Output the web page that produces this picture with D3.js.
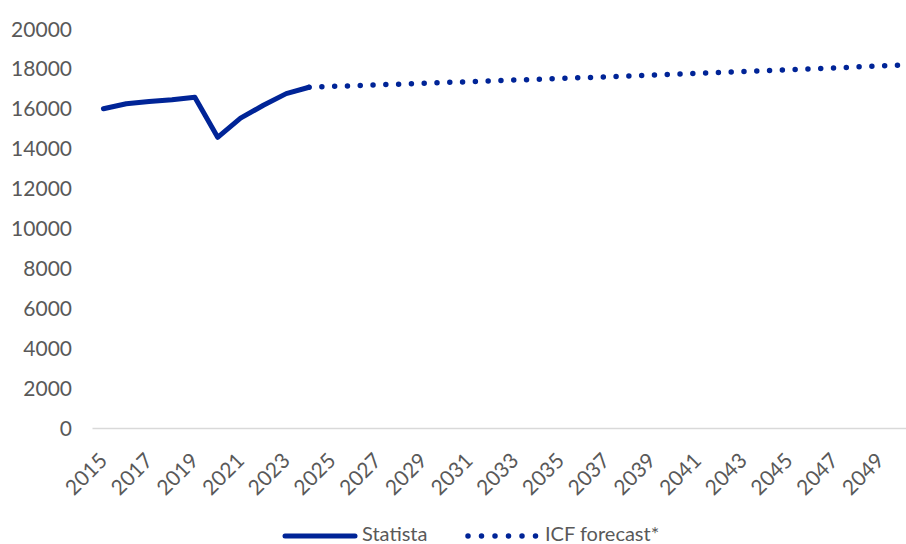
<!DOCTYPE html>
<html>
<head>
<meta charset="utf-8">
<script src="https://cdn.jsdelivr.net/npm/d3@7"></script>
<style>
  html, body { margin: 0; padding: 0; background: #fff; overflow: hidden; }
  svg { display: block; }
  text { font-family: Lato, "Open Sans", sans-serif; fill: #595959; }
</style>
</head>
<body>
<svg id="chart" width="906" height="544"></svg>
<script>
// ---- data ----
const years = d3.range(2015, 2051);
const statistaYears = [2015, 2016, 2017, 2018, 2019, 2020, 2021, 2022, 2023, 2024];
const statistaValues = [16000, 16250, 16370, 16450, 16580, 14570, 15530, 16180, 16760, 17080];
const forecastYears = [2024, 2025, 2026, 2027, 2028, 2029, 2030, 2031, 2032, 2033, 2034, 2035, 2036, 2037,
  2038, 2039, 2040, 2041, 2042, 2043, 2044, 2045, 2046, 2047, 2048, 2049, 2050];
const forecastValues = [17080, 17120, 17160, 17200, 17240, 17280, 17320, 17360, 17400, 17440, 17480, 17520, 17560, 17600,
  17645, 17690, 17735, 17780, 17825, 17870, 17915, 17960, 18005, 18050, 18100, 18150, 18200];
const yTicks = [0, 2000, 4000, 6000, 8000, 10000, 12000, 14000, 16000, 18000, 20000];
const xTickYears = [2015, 2017, 2019, 2021, 2023, 2025, 2027, 2029, 2031, 2033, 2035, 2037, 2039, 2041, 2043, 2045, 2047, 2049];
const legendLabels = ["Statista", "ICF forecast*"];

const blue = "#002497";
const svg = d3.select("#chart");

const x = d3.scalePoint().domain(years).range([92, 914.6]).padding(0.5);
const y = d3.scaleLinear().domain([0, 20000]).range([428, 29]);

// y labels
svg.append("g").selectAll("text").data(yTicks).join("text")
  .attr("x", 72).attr("y", d => y(d)).attr("dy", "0.36em")
  .attr("text-anchor", "end").attr("font-size", 21)
  .text(d => d);

// x axis
const xAxis = svg.append("g").attr("transform", `translate(0,${y(0)})`)
  .call(d3.axisBottom(x).tickValues(xTickYears).tickSize(0).tickFormat(d => d));
xAxis.select(".domain").attr("stroke", "#d9d9d9").attr("stroke-width", 1.5);
xAxis.selectAll("text")
  .attr("font-size", 21)
  .attr("fill", "#595959")
  .attr("font-family", "Lato, 'Open Sans', sans-serif")
  .attr("text-anchor", "end")
  .attr("y", 0).attr("dy", 0)
  .attr("transform", d => `translate(4.6,${462 - y(0)}) rotate(-45)`);

// lines
const line = d3.line().x(d => x(d[0])).y(d => y(d[1]));
svg.append("path")
  .datum(statistaYears.map((yr, i) => [yr, statistaValues[i]]))
  .attr("d", line).attr("fill", "none").attr("stroke", blue)
  .attr("stroke-width", 5).attr("stroke-linejoin", "round").attr("stroke-linecap", "round");
svg.append("path")
  .datum(forecastYears.map((yr, i) => [yr, forecastValues[i]]))
  .attr("d", line).attr("fill", "none").attr("stroke", blue)
  .attr("stroke-width", 5.5).attr("stroke-linecap", "round")
  .attr("stroke-dasharray", "0 12.8").attr("stroke-dashoffset", -12.8);

// legend
const lg = svg.append("g");
lg.append("line").attr("x1", 285).attr("x2", 355).attr("y1", 536).attr("y2", 536)
  .attr("stroke", blue).attr("stroke-width", 5).attr("stroke-linecap", "round");
lg.append("text").attr("x", 362).attr("y", 541).attr("font-size", 20).text(legendLabels[0]);
lg.append("line").attr("x1", 468).attr("x2", 536.5).attr("y1", 536).attr("y2", 536)
  .attr("stroke", blue).attr("stroke-width", 5.5).attr("stroke-linecap", "round")
  .attr("stroke-dasharray", "0 13.5");
lg.append("text").attr("x", 545).attr("y", 541).attr("font-size", 20).text(legendLabels[1]);
</script>
</body>
</html>
